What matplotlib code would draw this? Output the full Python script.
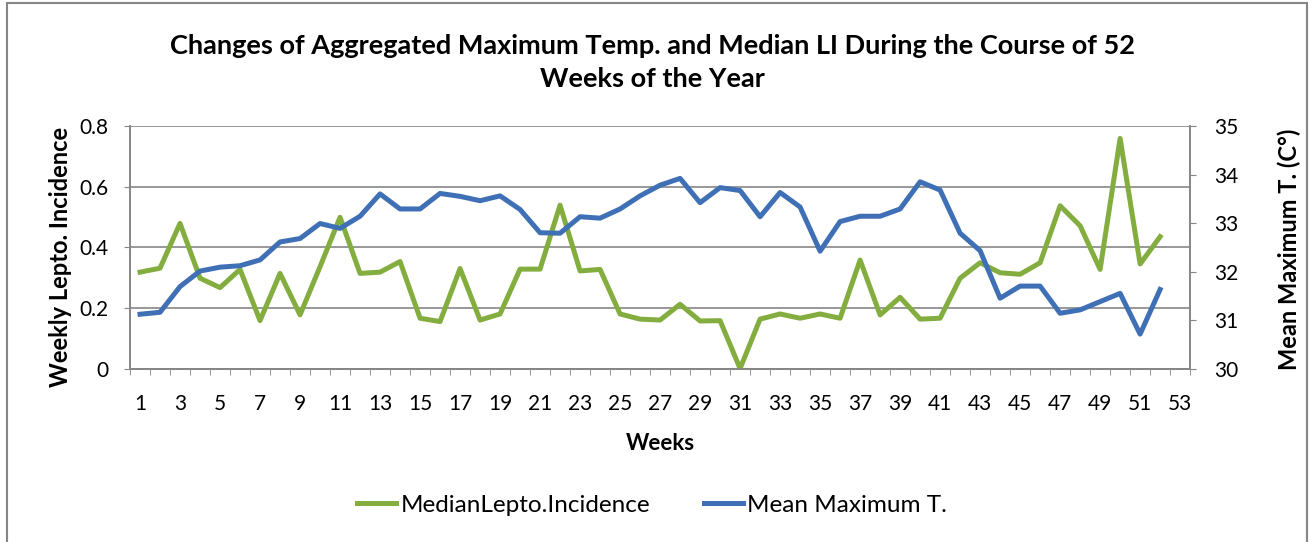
import matplotlib.pyplot as plt
from matplotlib.patches import Rectangle
import numpy as np

plt.rcParams['font.family'] = ['Lato', 'DejaVu Sans']

# weeks 1..52 (axis shows categories up to 53)
weeks = list(range(1, 53))
lepto = [0.318, 0.331, 0.479, 0.298, 0.267, 0.327, 0.158, 0.314, 0.177, 0.336,
         0.499, 0.314, 0.318, 0.353, 0.166, 0.155, 0.330, 0.160, 0.180, 0.328,
         0.328, 0.539, 0.322, 0.327, 0.180, 0.163, 0.160, 0.212, 0.157, 0.158,
         0.000, 0.163, 0.180, 0.166, 0.180, 0.166, 0.358, 0.177, 0.235, 0.163,
         0.166, 0.298, 0.349, 0.316, 0.311, 0.349, 0.537, 0.471, 0.327, 0.759,
         0.345, 0.435]
max_temp = [31.12, 31.16, 31.69, 32.01, 32.09, 32.12, 32.24, 32.61, 32.68, 32.99,
            32.89, 33.14, 33.60, 33.29, 33.29, 33.61, 33.55, 33.46, 33.56, 33.28,
            32.80, 32.79, 33.13, 33.10, 33.29, 33.56, 33.78, 33.92, 33.42, 33.73,
            33.67, 33.13, 33.63, 33.33, 32.42, 33.03, 33.14, 33.14, 33.29, 33.85,
            33.68, 32.79, 32.43, 31.45, 31.70, 31.70, 31.14, 31.21, 31.38, 31.55,
            30.71, 31.63]
xtick_labels = list(range(1, 54, 2))

green = '#84AD3F'
blue = '#3F70B5'
gray = '#868686'

fig = plt.figure(figsize=(13.12, 5.42), dpi=100)
ax = fig.add_axes([0.0991, 0.320, 0.808, 0.4475])
ax2 = ax.twinx()

ax.plot(weeks, lepto, color=green, lw=3.6, solid_joinstyle='round', zorder=3)
ax2.plot(weeks, max_temp, color=blue, lw=3.6, solid_joinstyle='round', zorder=3)

ax.set_xlim(0.5, 53.5)
ax.set_ylim(0, 0.8)
ax.set_yticks([0, 0.2, 0.4, 0.6, 0.8])
ax.set_yticklabels(['0', '0.2', '0.4', '0.6', '0.8'])
ax2.set_ylim(30, 35)
ax2.set_yticks([30, 31, 32, 33, 34, 35])

ax.set_xticks(xtick_labels)
ax.set_xticklabels([str(v) for v in xtick_labels])
ax.set_xticks(np.arange(0.5, 54, 1), minor=True)
ax.tick_params(axis='x', which='major', length=0, labelsize=15, pad=18)
ax.tick_params(axis='x', which='minor', length=4.5, color=gray, direction='out')
ax.tick_params(axis='y', length=4.5, color=gray, labelsize=15, pad=11)
ax2.tick_params(axis='y', length=4.5, color=gray, labelsize=15, pad=13)

ax.grid(axis='y', color=gray, lw=1.2)
ax.set_axisbelow(True)
for a in (ax, ax2):
    a.spines['top'].set_visible(False)
    for s in ('left', 'right', 'bottom'):
        a.spines[s].set_color(gray)
        a.spines[s].set_linewidth(1.2)

ax.set_xlabel('Weeks', fontsize=16, fontweight='bold', labelpad=14)
ax.set_ylabel('Weekly Lepto. Incidence', fontsize=17, fontweight='bold', va='center')
ax.yaxis.set_label_coords(-0.066, 0.46)
ax2.set_ylabel('Mean Maximum T. (C°)', fontsize=17, fontweight='bold', va='center')
ax2.yaxis.set_label_coords(1.094, 0.49)

fig.text(0.497, 0.885, 'Changes of Aggregated Maximum Temp. and Median LI During the Course of 52\nWeeks of the Year',
         ha='center', va='center', fontsize=19.5, fontweight='bold', linespacing=1.45)

# legend
handles = [plt.Line2D([], [], color=green, lw=3.6), plt.Line2D([], [], color=blue, lw=3.6)]
fig.legend(handles, ['MedianLepto.Incidence', 'Mean Maximum T.'], loc='center',
           bbox_to_anchor=(0.497, 0.068), ncol=2, frameon=False, fontsize=17.5,
           handlelength=1.6, handletextpad=0.2, columnspacing=2.2)

fig.patches.append(Rectangle((0.0055, -0.01), 0.9905, 1.004, transform=fig.transFigure,
                             fill=False, edgecolor=gray, lw=1.5))

fig.savefig('out.png', dpi=100)
